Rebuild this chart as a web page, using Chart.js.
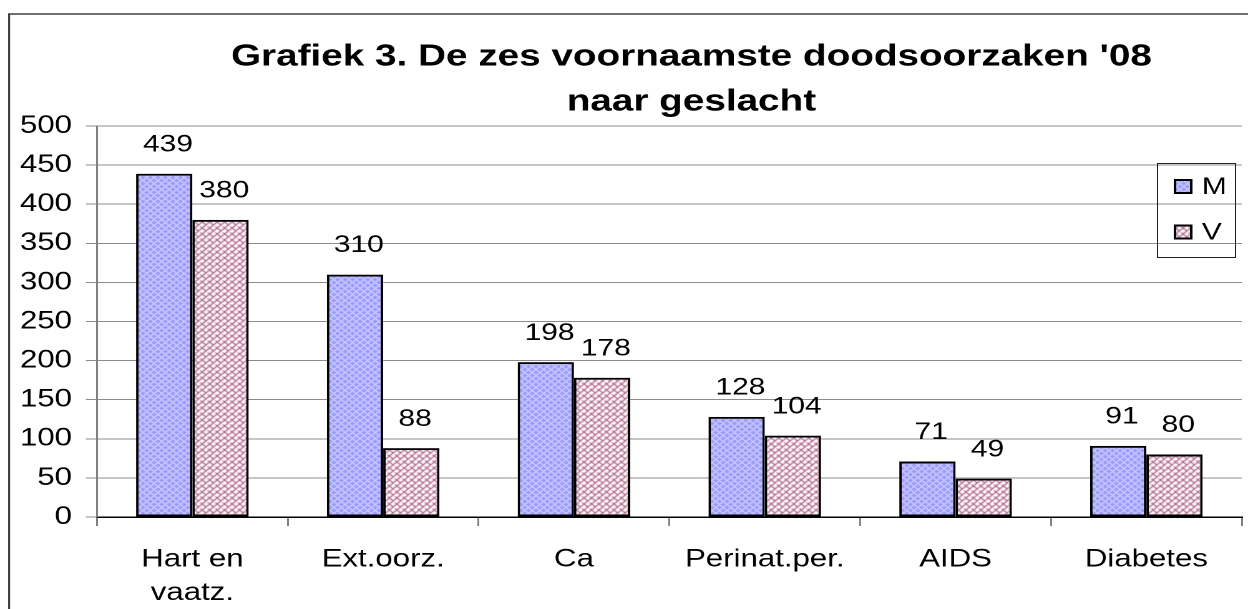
<!DOCTYPE html>
<html>
<head>
<meta charset="utf-8">
<script src="https://cdn.jsdelivr.net/npm/chart.js@4.4.1/dist/chart.umd.min.js"></script>
<style>
  html, body { margin: 0; padding: 0; background: #fff; overflow: hidden; }
  /* the reference is stretched sideways, so draw narrow and scale up */
  #wrap { width: 1000px; height: 609px; transform: scaleX(1.248); transform-origin: 0 0; }
</style>
</head>
<body>
<div id="wrap"><canvas id="deathChart" width="1000" height="609"></canvas></div>
<script>
// --- Chart data ---
const categories = [['Hart en', 'vaatz.'], 'Ext.oorz.', 'Ca', 'Perinat.per.', 'AIDS', 'Diabetes'];
const seriesNames = ['M', 'V'];
const valuesM = [439, 310, 198, 128, 71, 91];
const valuesV = [380, 88, 178, 104, 49, 80];
const yTicks = [0, 50, 100, 150, 200, 250, 300, 350, 400, 450, 500];
const titleLines = ["Grafiek 3. De zes voornaamste doodsoorzaken '08", 'naar geslacht'];

const FONT = "'Liberation Sans', Arial, sans-serif";

// Excel-like fill patterns
function makePattern(kind) {
    const c = document.createElement('canvas');
    const size = 6;
    c.width = size; c.height = size;
    const p = c.getContext('2d');
    if (kind === 'M') {
        p.fillStyle = '#9c9cff';
        p.fillRect(0, 0, size, size);
        p.fillStyle = 'rgba(255,255,255,0.8)';
        for (let x = 0; x < size; x++) {
            for (let y = 0; y < size; y++) {
                if ((x + y) % size === 0 || (x - y + size) % size === 0) p.fillRect(x, y, 1, 1);
            }
        }
    } else {
        p.fillStyle = '#ffffff';
        p.fillRect(0, 0, size, size);
        p.strokeStyle = '#b0628a';
        p.lineWidth = 1.1;
        p.beginPath();
        p.moveTo(0, 0); p.lineTo(3, 3); p.lineTo(6, 0);
        p.moveTo(0, 6); p.lineTo(3, 3);
        p.moveTo(6, 6); p.lineTo(4.5, 4.5);
        p.stroke();
    }
    return document.getElementById('deathChart').getContext('2d').createPattern(c, 'repeat');
}

const patM = makePattern('M');
const patV = makePattern('V');

// outer frame, title, value labels and legend
const decorPlugin = {
    id: 'decor',
    beforeDraw(chart) {
        const ctx = chart.ctx;
        ctx.save();
        ctx.strokeStyle = '#404040';
        ctx.lineWidth = 1.6;
        ctx.beginPath();
        ctx.moveTo(7.3, 620);
        ctx.lineTo(7.3, 14);
        ctx.lineTo(1000, 14);
        ctx.stroke();
        ctx.restore();
    },
    afterDatasetsDraw(chart) {
        const ctx = chart.ctx;
        ctx.save();
        ctx.fillStyle = '#000';
        ctx.font = '24px ' + FONT;
        ctx.textAlign = 'center';
        ctx.textBaseline = 'middle';
        chart.data.datasets.forEach((ds, i) => {
            chart.getDatasetMeta(i).data.forEach((bar, j) => {
                ctx.fillText(String(ds.data[j]), bar.x + 3, bar.y - 29);
            });
        });
        ctx.restore();
    },
    afterDraw(chart) {
        const ctx = chart.ctx;
        ctx.save();
        // title
        ctx.fillStyle = '#000';
        ctx.font = 'bold 31px ' + FONT;
        ctx.textAlign = 'center';
        ctx.textBaseline = 'middle';
        ctx.fillText(titleLines[0], 554, 57);
        ctx.fillText(titleLines[1], 554, 102);

        // legend
        ctx.strokeStyle = '#202020';
        ctx.lineWidth = 1;
        ctx.strokeRect(927.5, 163.5, 62.5, 94);
        const pats = [patM, patV];
        const rows = [186.5, 232];
        ctx.font = '24px ' + FONT;
        ctx.textAlign = 'left';
        seriesNames.forEach((name, i) => {
            ctx.fillStyle = pats[i];
            ctx.fillRect(941.5, rows[i] - 6.5, 13, 13);
            ctx.strokeStyle = '#000';
            ctx.lineWidth = 2;
            ctx.strokeRect(941.5, rows[i] - 6.5, 13, 13);
            ctx.fillStyle = '#000';
            ctx.fillText(name, 963, rows[i] + 1);
        });
        ctx.restore();
    }
};

new Chart(document.getElementById('deathChart'), {
    type: 'bar',
    data: {
        labels: categories,
        datasets: [
            { label: seriesNames[0], data: valuesM, backgroundColor: patM, borderColor: '#000', borderWidth: 2 },
            { label: seriesNames[1], data: valuesV, backgroundColor: patV, borderColor: '#000', borderWidth: 2 }
        ]
    },
    options: {
        responsive: false,
        animation: false,
        devicePixelRatio: 2,
        layout: { padding: { left: 7.7, right: 5, top: 126, bottom: 0 } },
        datasets: { bar: { barPercentage: 1, categoryPercentage: 0.59, borderSkipped: false } },
        plugins: {
            legend: { display: false },
            title: { display: false },
            tooltip: { enabled: false }
        },
        scales: {
            x: {
                afterFit(scale) { scale.height = 92; },
                grid: { offset: true, drawOnChartArea: false, drawTicks: true, tickLength: 9, color: '#808080', lineWidth: 1.5 },
                border: { color: '#000', width: 1.5 },
                ticks: { color: '#000', font: { family: FONT, size: 25, lineHeight: 1.34 }, padding: 17, maxRotation: 0, autoSkip: false }
            },
            y: {
                min: 0,
                max: 500,
                afterFit(scale) { scale.width = 70; },
                afterBuildTicks(scale) { scale.ticks = yTicks.map(v => ({ value: v })); },
                grid: { color: '#8c8c8c', lineWidth: 1, tickLength: 9 },
                border: { color: '#808080', width: 1.5 },
                ticks: { color: '#000', font: { family: FONT, size: 25 }, padding: 11 }
            }
        }
    },
    plugins: [decorPlugin]
});
</script>
</body>
</html>
